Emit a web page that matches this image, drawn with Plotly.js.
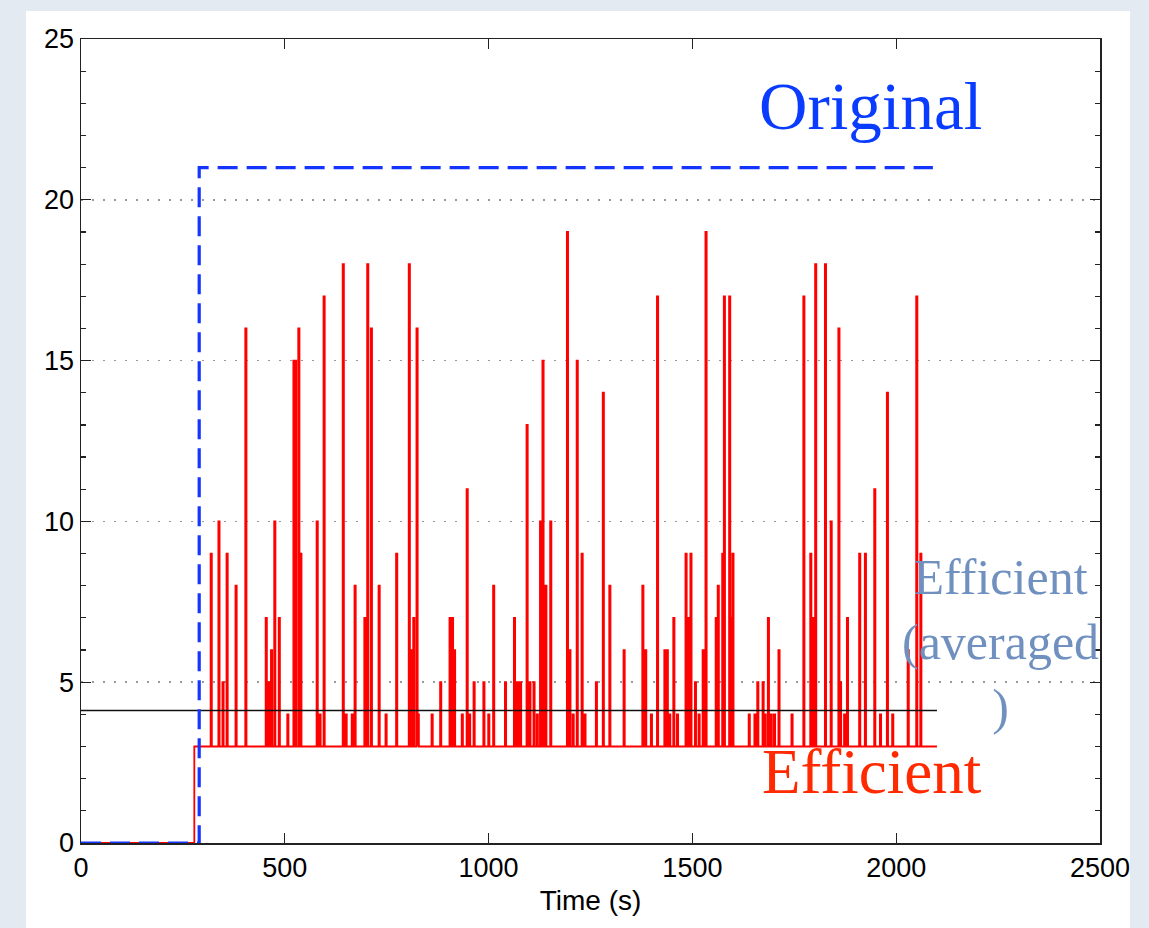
<!DOCTYPE html>
<html>
<head>
<meta charset="utf-8">
<script src="https://cdn.plot.ly/plotly-3.0.1.min.js"></script>
<style>
  html, body { margin: 0; padding: 0; }
  body { width: 1149px; height: 928px; background: #e4eaf2; position: relative; overflow: hidden; }
  #panel { position: absolute; left: 26px; top: 11px; width: 1104px; height: 917px; background: #ffffff; }
  #chart { position: absolute; left: 0; top: 0; width: 1149px; height: 928px; }
</style>
</head>
<body>
<div id="panel"></div>
<div id="chart"></div>
<script>
// ---- Data ----
// "Efficient" (red): step series, 0 until effStart, then baseline 3 with spikes
const effStartTime = 278;
const effEndTime = 2100;
const effBaseline = 3;
const effSpikeTimes = [
  318, 337, 347, 357, 379, 403, 453, 460, 466, 474, 485, 506, 521, 525, 533, 538,
  578, 585, 595, 642, 649, 664, 671, 695, 702, 711, 730, 747, 773, 804, 809, 815,
  823, 826, 860, 881, 904, 910, 915, 934, 946, 952, 963, 987, 999, 1011, 1040, 1062,
  1066, 1073, 1077, 1093, 1100, 1110, 1118, 1126, 1132, 1139, 1151, 1192, 1198, 1206,
  1216, 1228, 1235, 1263, 1280, 1296, 1331, 1377, 1384, 1398, 1413, 1431, 1437, 1443,
  1453, 1462, 1483, 1489, 1495, 1506, 1515, 1525, 1532, 1557, 1562, 1573, 1577, 1590,
  1594, 1598, 1638, 1652, 1659, 1672, 1677, 1685, 1692, 1700, 1711, 1743, 1772, 1789,
  1795, 1801, 1825, 1839, 1858, 1862, 1872, 1879, 1909, 1923, 1946, 1960, 1977, 1990,
  2028, 2049, 2059
];
const effSpikeValues = [
  9, 10, 5, 9, 8, 16, 7, 5, 6, 10, 7, 4, 15, 15, 16, 9,
  10, 4, 17, 18, 4, 4, 8, 7, 18, 16, 8, 4, 9, 18, 6, 7,
  16, 4, 4, 5, 7, 7, 6, 4, 11, 4, 5, 5, 4, 8, 5, 7,
  5, 5, 5, 13, 5, 5, 4, 10, 15, 8, 10, 19, 6, 4,
  15, 9, 4, 5, 14, 8, 6, 8, 6, 4, 17, 6, 6, 4,
  7, 4, 9, 7, 9, 5, 4, 6, 19, 7, 8, 9, 17, 17,
  7, 9, 4, 4, 5, 5, 4, 7, 4, 4, 6, 4, 17, 9,
  7, 18, 18, 10, 16, 5, 4, 7, 9, 9, 11, 4, 14, 4,
  6, 17, 9
];
const effPulseSeconds = 3;

// "Original" (blue dashed): 0 then 21
const origTimes = [0, 290, 2090];
const origValues = [0, 21, 21];

// "Efficient (averaged)" (black)
const avgTimes = [0, 2100];
const avgValues = [4.12, 4.12];

// Axis ticks
const xTickVals = [0, 500, 1000, 1500, 2000, 2500];
const yTickVals = [0, 5, 10, 15, 20, 25];

// ---- Build the red step series from the spike list ----
const effX = [0, effStartTime];
const effY = [0, effBaseline];
for (let i = 0; i < effSpikeTimes.length; i++) {
  effX.push(effSpikeTimes[i]); effY.push(effSpikeValues[i]);
  effX.push(effSpikeTimes[i] + effPulseSeconds); effY.push(effBaseline);
}
effX.push(effEndTime); effY.push(effBaseline);

const traces = [
  { x: effX, y: effY, type: 'scatter', mode: 'lines',
    line: { color: '#ff0000', width: 1.8, shape: 'hv' }, hoverinfo: 'skip' },
  { x: avgTimes, y: avgValues, type: 'scatter', mode: 'lines',
    line: { color: '#111111', width: 1.6 }, hoverinfo: 'skip' },
  { x: origTimes, y: origValues, type: 'scatter', mode: 'lines',
    line: { color: '#1434ff', width: 3.2, dash: '20px,9px', shape: 'hv' }, hoverinfo: 'skip' }
];

const axisCommon = {
  showline: true, linecolor: '#222222', linewidth: 1.5, mirror: 'ticks',
  ticks: 'inside', ticklen: 10, tickwidth: 1.3, tickcolor: '#222222',
  zeroline: false, fixedrange: true,
  tickfont: { family: 'Liberation Sans, Arial, sans-serif', size: 27, color: '#000000' }
};

const layout = {
  width: 1149, height: 928,
  margin: { l: 81, r: 49, t: 39, b: 85 },
  paper_bgcolor: 'rgba(0,0,0,0)',
  plot_bgcolor: '#ffffff',
  showlegend: false,
  xaxis: Object.assign({}, axisCommon, {
    range: [0, 2500], tickvals: xTickVals, ticktext: xTickVals.map(String),
    showgrid: false,
    title: { text: 'Time (s)', standoff: 8,
      font: { family: 'Liberation Sans, Arial, sans-serif', size: 28, color: '#000000' } }
  }),
  yaxis: Object.assign({}, axisCommon, {
    range: [0, 25], tickvals: yTickVals, ticktext: yTickVals.map(String),
    showgrid: true, gridcolor: '#999999', gridwidth: 1.5, griddash: '1.5px,9.5px',
    minor: { dtick: 1, ticks: 'inside', ticklen: 5, tickcolor: '#222222', tickwidth: 1.2, showgrid: false }
  }),
  annotations: [
    { x: 1936, y: 22.92, xref: 'x', yref: 'y', text: 'Original', showarrow: false,
      xanchor: 'center', yanchor: 'middle',
      font: { family: 'Liberation Serif, Times New Roman, serif', size: 67, color: '#0a3cff' } },
    { x: 1940, y: 2.2, xref: 'x', yref: 'y', text: 'Efficient', showarrow: false,
      xanchor: 'center', yanchor: 'middle',
      font: { family: 'Liberation Serif, Times New Roman, serif', size: 63, color: '#ff2a00' } },
    { x: 2255, y: 6.25, xref: 'x', yref: 'y', text: 'Efficient<br>(averaged<br>)', showarrow: false,
      xanchor: 'center', yanchor: 'middle', align: 'center',
      font: { family: 'Liberation Serif, Times New Roman, serif', size: 50, color: '#7090c0' } }
  ]
};

Plotly.newPlot('chart', traces, layout, { staticPlot: true, displayModeBar: false });
</script>
</body>
</html>
